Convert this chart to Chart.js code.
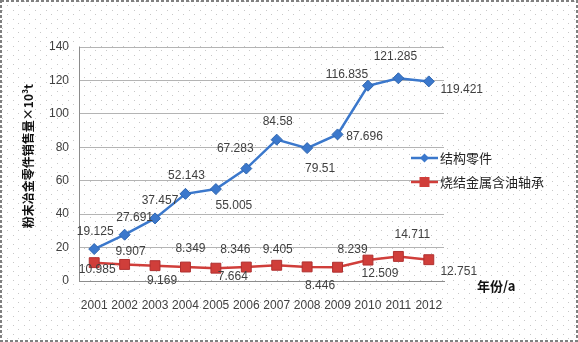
<!DOCTYPE html>
<html>
<head>
<meta charset="utf-8">
<script src="https://cdn.jsdelivr.net/npm/chart.js@4"></script>
<style>
  html,body{margin:0;padding:0;background:#fff;}
  #c{display:block;}
</style>
</head>
<body>
<canvas id="c" width="578" height="342"></canvas>
<script>
// 数据
const years = ['2001','2002','2003','2004','2005','2006','2007','2008','2009','2010','2011','2012'];
const structParts = [19.125,27.691,37.457,52.143,55.005,67.283,84.58,79.51,87.696,116.835,121.285,119.421];
const oilBearings = [10.985,9.907,9.169,8.349,7.664,8.346,9.405,8.446,8.239,12.509,14.711,12.751];
const seriesNames = ['结构零件','烧结金属含油轴承'];
const yTicks = [0,20,40,60,80,100,120,140];

// 数据标签的位置 (dx, dy 相对于点)
const blueLabelPos = [[1,-17],[10,-17],[5,-18],[1,-18],[18,17],[-11,-20],[1,-18],[13,21],[27,2],[-21,-11],[-3,-22],[33,8]];
const redLabelPos  = [[3,7],[6,-13],[7,15],[5,-18],[17,8],[-11,-17],[1,-16],[13,19],[15,-18],[12,14],[14,-22],[30,12]];

const BLUE = '#3B78CC';
const RED = '#D03E3A';
const TXT = '#404040';
const FONT = '"Liberation Sans", Arial, sans-serif';

// 背景的点状图案
function dotPattern(ctx){
    const p = document.createElement('canvas');
    p.width = 11; p.height = 9;
    const pc = p.getContext('2d');
    pc.fillStyle = '#c8c8c8';
    pc.fillRect(2,1,1,1);
    pc.fillRect(7,5,1,1);
    return ctx.createPattern(p,'repeat');
}

const bgPlugin = {
    id:'bg',
    beforeDraw(chart){
        const ctx = chart.ctx;
        ctx.save();
        ctx.fillStyle = '#fff';
        ctx.fillRect(0,0,chart.width,chart.height);
        ctx.fillStyle = dotPattern(ctx);
        ctx.fillRect(0,0,chart.width,chart.height);
        ctx.restore();
    }
};

const decoPlugin = {
    id:'deco',
    afterDatasetsDraw(chart){
        const ctx = chart.ctx;
        ctx.save();
        // 数据标签
        ctx.font = '12px ' + FONT;
        ctx.fillStyle = TXT;
        ctx.textAlign = 'center';
        ctx.textBaseline = 'middle';
        [[0,blueLabelPos],[1,redLabelPos]].forEach(([di,pos])=>{
            const meta = chart.getDatasetMeta(di);
            const vals = chart.data.datasets[di].data;
            meta.data.forEach((pt,i)=>{
                ctx.fillText(String(vals[i]), pt.x+pos[i][0], pt.y+pos[i][1]);
            });
        });

        // 图例
        const lx = 411, ly = [158,182];
        [BLUE,RED].forEach((col,i)=>{
            ctx.strokeStyle = col;
            ctx.lineWidth = 2.5;
            ctx.beginPath();
            ctx.moveTo(lx,ly[i]); ctx.lineTo(lx+27,ly[i]);
            ctx.stroke();
            ctx.fillStyle = col;
            if(i===0){
                ctx.beginPath();
                ctx.moveTo(lx+13.5,ly[i]-4.5);
                ctx.lineTo(lx+18,ly[i]);
                ctx.lineTo(lx+13.5,ly[i]+4.5);
                ctx.lineTo(lx+9,ly[i]);
                ctx.closePath();
                ctx.fill();
            }else{
                ctx.fillRect(lx+8.5,ly[i]-5,10,10);
            }
            ctx.fillStyle = '#222';
            ctx.font = '13px "Noto Sans CJK SC", sans-serif';
            ctx.textAlign = 'left';
            ctx.fillText(seriesNames[i], lx+29, ly[i]);
        });

        // 坐标轴标题
        ctx.fillStyle = '#111';
        ctx.font = 'bold 13px "Noto Sans CJK SC", sans-serif';
        ctx.textAlign = 'left';
        ctx.fillText('年份/a', 477, 286);

        ctx.save();
        ctx.translate(28,156);
        ctx.rotate(-Math.PI/2);
        ctx.textAlign = 'center';
        ctx.font = 'bold 12px "Noto Sans CJK SC", sans-serif';
        ctx.fillText('粉末冶金零件销售量×10³t', 0, 0);
        ctx.restore();

        // 外框
        ctx.strokeStyle = '#808080';
        ctx.lineWidth = 2;
        ctx.setLineDash([3,2]);
        ctx.strokeRect(1,1,chart.width-2,chart.height-2);
        ctx.restore();
    }
};

new Chart(document.getElementById('c'), {
    type:'line',
    data:{
        labels: years,
        datasets:[{
            label: seriesNames[0],
            data: structParts,
            borderColor: BLUE,
            backgroundColor: BLUE,
            borderWidth: 2.5,
            pointStyle: 'rectRot',
            pointRadius: 5.5,
            pointBorderWidth: 1,
            pointBorderColor: '#2F66B0',
            tension: 0
        },{
            label: seriesNames[1],
            data: oilBearings,
            borderColor: RED,
            backgroundColor: RED,
            borderWidth: 2.5,
            pointStyle: 'rect',
            pointRadius: 7,
            pointBorderWidth: 1,
            pointBorderColor: '#B03030',
            tension: 0
        }]
    },
    options:{
        responsive:false,
        animation:false,
        events:[],
        layout:{padding:{left:0,right:134,top:47,bottom:0}},
        plugins:{legend:{display:false},tooltip:{enabled:false}},
        scales:{
            x:{
                offset:true,
                grid:{display:false, drawTicks:false},
                border:{color:'#8c8c8c', width:1},
                ticks:{color:TXT, font:{family:FONT,size:12}, padding:17, maxRotation:0, autoSkip:false},
                afterFit(s){ s.height = 61; }
            },
            y:{
                min:0, max:140,
                afterBuildTicks(s){ s.ticks = yTicks.map(v=>({value:v})); },
                grid:{color:'#b4b4b4', drawTicks:false},
                border:{color:'#8c8c8c', width:1, dash:[]},
                ticks:{color:TXT, font:{family:FONT,size:12}, padding:10},
                afterFit(s){ s.width = 79; }
            }
        }
    },
    plugins:[bgPlugin, decoPlugin]
});
</script>
</body>
</html>
